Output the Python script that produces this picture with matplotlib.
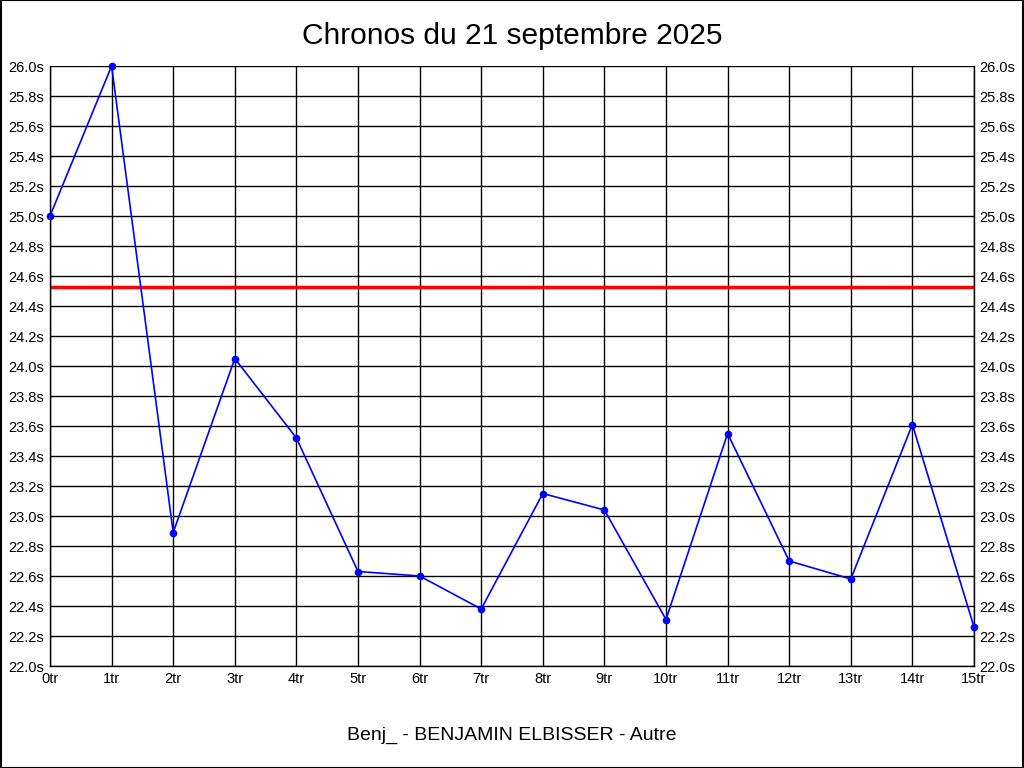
import matplotlib.pyplot as plt
import numpy as np

plt.rcParams["font.family"] = ["Liberation Sans", "DejaVu Sans"]

# lap times (seconds) per lap
laps = list(range(16))
times = [25.00, 26.00, 22.89, 24.05, 23.52, 22.63, 22.60, 22.38,
         23.15, 23.04, 22.31, 23.55, 22.70, 22.58, 23.61, 22.26]
ref_time = 24.53  # red reference line

title = "Chronos du 21 septembre 2025"
footer = "Benj_ - BENJAMIN ELBISSER - Autre"

fig = plt.figure(figsize=(10.24, 7.68), dpi=100)
ax = fig.add_axes([50 / 1024, 102 / 768, 924 / 1024, 600 / 768])

ax.plot(laps, times, color="#0000ff", lw=1.2, marker="o", ms=4.5, zorder=3,
        clip_on=False)
ax.axhline(ref_time, color="#ff0000", lw=2.5, zorder=2)

ax.set_xlim(0, 15)
ax.set_ylim(22.0, 26.0)
yticks = np.round(np.arange(22.0, 26.01, 0.2), 1)
ax.set_yticks(yticks)
ax.set_yticklabels([f"{v:.1f}s" for v in yticks])
ax.set_xticks(laps)
ax.set_xticklabels([f"{i}tr" for i in laps])
ax.grid(True, color="black", lw=1)
ax.set_axisbelow(True)
ax.tick_params(axis="both", length=0, labelsize=10.5, pad=4)
ax.tick_params(axis="y", labelright=True, right=False, labelleft=True)
ax.spines["top"].set_visible(False)
for side in ["left", "bottom", "right"]:
    ax.spines[side].set_linewidth(1)

fig.text(0.5, 1 - 36 / 768, title, ha="center", va="center", fontsize=21.5)
fig.text(0.5, 1 - 735 / 768, footer, ha="center", va="center", fontsize=14)

border = plt.Rectangle((0.0005, 0.0005), 0.999, 0.999, transform=fig.transFigure,
                       fill=False, ec="black", lw=1.5)
fig.patches.append(border)

fig.savefig("out.png", dpi=100)
